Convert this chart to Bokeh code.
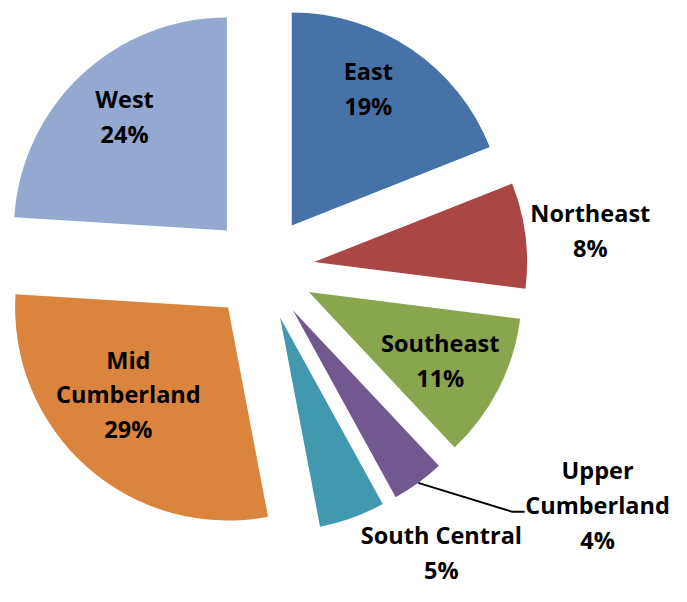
import numpy as np
from bokeh.plotting import figure
from bokeh.models import Range1d, ColumnDataSource
from bokeh.core.properties import value
from bokeh.embed import file_html
from bokeh.resources import INLINE

# ---- data ----
regions = ["East", "Northeast", "Southeast", "Upper Cumberland", "South Central", "Mid Cumberland", "West"]
label_texts = ["East", "Northeast", "Southeast", "Upper\nCumberland", "South Central", "Mid\nCumberland", "West"]
shares = [19, 8, 11, 4, 5, 29, 24]
colors = ["#4672A8", "#AA4644", "#89A54E", "#71588F", "#4198AF", "#DB843D", "#93A9CF"]

# ---- layout ----
W, H = 671, 586
CX, CY = 262, 334          # pie centre (data units = pixels, y up)
R = 213                    # radius
EXPLODE = 52               # explosion distance
# label placement: polar (angle clockwise from top, distance from centre)
label_angle = [30.4, 83.4, 117.3, 125.2, 147.8, 226.8, 317.7]
label_dist = [209, 330, 200, 410, 335.7, 184, 205]

vals = np.array(shares, dtype=float)
frac = vals / vals.sum()
cum = np.concatenate([[0], np.cumsum(frac)]) * 360.0
t1, t2 = cum[:-1], cum[1:]
mid = (t1 + t2) / 2
xs = CX + EXPLODE * np.sin(np.radians(mid))
ys = CY + EXPLODE * np.cos(np.radians(mid))

p = figure(width=W, height=H, output_backend="svg", toolbar_location=None,
           x_range=Range1d(0, W), y_range=Range1d(602 - H, 602),
           min_border=0)
p.axis.visible = False
p.grid.visible = False
p.outline_line_color = None
p.background_fill_color = "white"

src = ColumnDataSource(dict(x=xs, y=ys, start=np.radians(90 - t2), end=np.radians(90 - t1), color=colors))
p.wedge(x="x", y="y", radius=R, start_angle="start", end_angle="end",
        fill_color="color", line_color=None, source=src)

# labels
la = np.radians(label_angle)
lx = CX + np.array(label_dist) * np.sin(la)
ly = CY + np.array(label_dist) * np.cos(la)
texts = [f"{t}\n{s}%" for t, s in zip(label_texts, shares)]
p.text(x=lx, y=ly, text=texts, text_align="center", text_baseline="middle",
       text_font=value("Open Sans"), text_font_style="bold", text_font_size="23.5px",
       text_line_height=1.09, text_color="black")

# leader line for Upper Cumberland
i = regions.index("Upper Cumberland")
sx = xs[i] + R * np.sin(np.radians(mid[i]))
sy = ys[i] + R * np.cos(np.radians(mid[i]))
ex, ey = lx[i] - 85, ly[i] - 7
p.line(x=[sx, ex, ex + 12], y=[sy, ey, ey], line_color="black", line_width=2)

open("out.html", "w").write(file_html(p, INLINE))
